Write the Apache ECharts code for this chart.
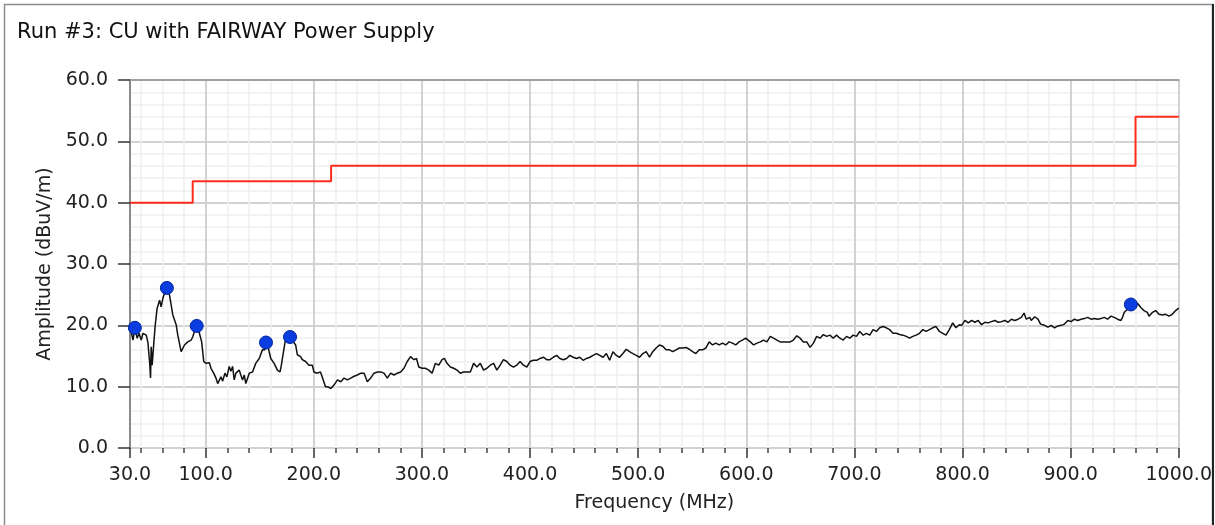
<!DOCTYPE html>
<html>
<head>
<meta charset="utf-8">
<script src="https://cdn.jsdelivr.net/npm/echarts@6/dist/echarts.min.js"></script>
<style>
  body { margin: 0; background: #fff; }
  #chart { width: 1215px; height: 525px; }
</style>
</head>
<body>
<div id="chart"></div>
<script>
const freqs = [30, 31.2, 32.8, 34.3, 36.7, 38.3, 40.4, 42, 45, 46.5, 48.1, 49, 49.6, 50.5, 52.1, 53.3, 55.1, 57.4, 58.8, 60.4,
  63.4, 66.6, 69.6, 72.7, 74.2, 77.3, 80.4, 83.4, 86.5, 88, 91.1, 92.6, 94.2, 96.3, 98.2, 100.3, 103.4, 104.9, 107.4, 109.5,
  111.1, 114.1, 115.7, 117.8, 119.6, 121.8, 123.3, 124.9, 126.4, 127.9, 129.5, 131, 132.5, 134.1, 135.7, 137.1, 140.3, 143.3, 146.3, 149.5,
  152.5, 154.6, 157.1, 158.7, 160.2, 163.3, 166.3, 168.8, 170, 172.5, 174, 177.1, 180.1, 183.2, 184.8, 187.8, 189.4, 192.4, 195.5, 198.6,
  200.1, 203.2, 206.2, 209.3, 210.8, 212.7, 215.8, 218.8, 221.9, 225, 228, 231.1, 234.2, 237.3, 240.3, 243.4, 246.5, 249.5, 252.6, 255.7,
  258.8, 261.9, 264.9, 268, 271.1, 274.2, 277.2, 280.3, 283.4, 286.4, 289.5, 292.6, 295, 297.1, 300.2, 303.2, 306.3, 309.4, 312.5, 315.6,
  318.6, 320.8, 323.2, 326.3, 329.4, 332.5, 335.5, 338.6, 341.7, 344.8, 347.8, 350.9, 354, 357, 360.1, 363.2, 366.3, 369.3, 372.4, 375.4,
  378.5, 381.6, 384.7, 387.7, 390.8, 393.9, 397, 400, 403.1, 406.2, 409.2, 412.3, 415.4, 418.5, 421.5, 424.6, 427.6, 430.7, 433.8, 436.8,
  439.9, 443, 446, 449.1, 452.2, 455.3, 458.3, 461.4, 464.5, 467.5, 470.6, 473.6, 476.7, 479.8, 482.8, 485.9, 489, 492, 495.1, 498.2,
  501.3, 504.3, 507.4, 510.5, 513.5, 516.6, 519.7, 522.8, 525.8, 528.9, 532, 535, 538.1, 541.1, 544.2, 547.3, 550.3, 553.4, 556.5, 559.6,
  562.6, 565.7, 568.8, 571.8, 574.9, 578, 581, 584.1, 587.2, 590.2, 593.3, 596.4, 599.4, 603.8, 606.8, 609.9, 613, 616, 619.1, 622.2,
  625.2, 628.3, 631.4, 634.5, 637.5, 640.6, 643.6, 646.7, 649.8, 652.8, 655.9, 659, 662.1, 665.1, 668.2, 671.3, 674.3, 677.4, 680.4, 683.5,
  686.6, 689.7, 692.7, 695.8, 698.8, 701.9, 705, 708.1, 711.1, 714.2, 717.3, 720.3, 723.4, 726.5, 729.5, 732.6, 735.7, 738.7, 741.8, 744.9,
  747.9, 751, 754, 757.1, 760.2, 763.3, 766.3, 769.4, 772.4, 775.5, 778.6, 781.7, 784.7, 787.8, 790.9, 793.9, 797, 799.2, 802.3, 805.3,
  808.4, 811.5, 814.5, 817.6, 820.7, 823.7, 826.8, 829.9, 832.9, 836, 839.1, 842.1, 845.2, 848.3, 851.4, 854.4, 856.9, 859, 862.1, 863.6,
  866.7, 869.8, 872.2, 875.9, 879, 882, 885.1, 888.2, 891.2, 894.3, 897.4, 900.4, 903.5, 906.6, 909.6, 912.7, 915.8, 918.8, 921.9, 925,
  928.1, 931.1, 934.2, 937.3, 940.3, 943.4, 946.5, 948, 949.5, 951.1, 954.1, 956.6, 958.7, 961.8, 964.9, 967.9, 971, 972.5, 975.6, 978.7,
  981.7, 984.8, 987.9, 990.9, 994, 997.1, 1000];
const amps = [19.6, 18.8, 17.6, 19.5, 17.9, 18.7, 17.6, 18.7, 18.4, 17.3, 14.1, 11.4, 16.5, 13.5, 17.3, 20, 22.8, 24.1, 23, 24.4,
  26, 24.9, 21.7, 20.1, 18.4, 15.7, 16.8, 17.3, 17.6, 18.1, 19.8, 20.3, 18.7, 17.3, 14.1, 13.8, 13.9, 13, 12.2, 11.4,
  10.5, 11.6, 10.9, 12.2, 11.6, 13.3, 12.5, 13.3, 11.1, 12.2, 11.9, 12.7, 11.9, 11.1, 11.9, 10.5, 12.2, 12.4, 13.8, 14.6,
  16, 16, 17.3, 15.7, 14.6, 13.8, 12.7, 12.4, 13.5, 16.3, 17.9, 18.1, 17.6, 16.8, 15.2, 14.9, 14.4, 14.1, 13.5, 13.5,
  12.4, 12.2, 12.4, 10.8, 10, 10, 9.7, 10.3, 11.1, 10.8, 11.4, 11.1, 11.4, 11.7, 11.9, 12.2, 12.2, 10.8, 11.4, 12.2,
  12.4, 12.4, 12.2, 11.4, 12.2, 11.9, 12.2, 12.4, 13, 14.1, 14.9, 14.4, 14.6, 13.2, 13, 13, 12.7, 12.2, 13.8, 13.5,
  14.4, 14.6, 13.8, 13.2, 13, 12.7, 12.2, 12.4, 12.4, 12.4, 13.8, 13.2, 13.8, 12.7, 13, 13.5, 13.8, 12.7, 13.5, 14.4,
  14.1, 13.5, 13.2, 13.5, 14.1, 13.5, 13.2, 14.1, 14.3, 14.3, 14.6, 14.8, 14.4, 14.4, 14.8, 15.1, 14.6, 14.4, 14.6, 15.1,
  14.8, 14.6, 14.8, 14.3, 14.6, 14.8, 15.1, 15.4, 15.1, 14.8, 15.4, 14.3, 15.7, 15.1, 14.8, 15.4, 16.1, 15.7, 15.4, 15.1,
  14.8, 15.4, 15.7, 14.8, 15.7, 16.3, 16.8, 16.6, 16, 16, 15.7, 16, 16.3, 16.3, 16.4, 16.1, 15.7, 15.4, 16, 16,
  16.3, 17.3, 16.8, 17.1, 16.8, 17.1, 16.8, 17.3, 17.1, 16.8, 17.3, 17.6, 17.9, 17.3, 16.8, 17.1, 17.3, 17.6, 17.3, 18.2,
  17.9, 17.6, 17.3, 17.3, 17.3, 17.3, 17.6, 18.3, 17.9, 17.3, 17.3, 16.4, 17.1, 18.2, 17.9, 18.5, 18.2, 18.4, 17.9, 18.4,
  17.9, 17.6, 18.2, 17.9, 18.4, 18.2, 19, 18.4, 18.7, 18.4, 19.3, 19, 19.6, 19.8, 19.6, 19.3, 18.7, 18.7, 18.5, 18.4,
  18.2, 17.9, 18.2, 18.4, 18.7, 19.3, 19, 19.3, 19.6, 19.8, 19, 18.7, 18.4, 19.3, 20.4, 19.6, 20.1, 20, 20.8, 20.4,
  20.8, 20.5, 20.8, 20.1, 20.5, 20.4, 20.6, 20.8, 20.5, 20.6, 20.8, 20.5, 21, 20.8, 21, 21.3, 22, 21, 21.3, 20.8,
  21.4, 21, 20.2, 20, 19.7, 20, 19.6, 19.9, 20, 20.2, 20.8, 20.6, 21, 20.8, 21, 21.1, 21.3, 21, 21.1, 21,
  21.1, 21.3, 21, 21.5, 21.3, 21, 20.8, 21.3, 22.1, 22.2, 22.9, 23.3, 22.8, 23.6, 22.9, 22.4, 22.1, 21.5, 22.1, 22.4,
  21.8, 21.7, 21.8, 21.5, 21.8, 22.4, 22.8];

// limit line (steps)
const limitFreqs = [30, 88, 88, 216, 216, 960, 960, 1000];
const limitAmps = [40, 40, 43.5, 43.5, 46, 46, 54, 54];

// peak markers
const peakFreqs = [34.5, 64.1, 91.7, 155.8, 178, 955.7];
const peakAmps = [19.6, 26.1, 19.9, 17.2, 18.1, 23.4];

// axis ticks
const xMajorTicks = [30, 100, 200, 300, 400, 500, 600, 700, 800, 900, 1000];
const xMinorTicks = [];
for (let v = 40; v <= 1000; v += 20) {
  if (v % 100 !== 0) xMinorTicks.push(v);
}

const FONT = 'DejaVu Sans';

let chart = echarts.init(document.getElementById('chart'));

let option = {
  animation: false,
  backgroundColor: '#fff',
  title: {
    text: 'Run #3: CU with FAIRWAY Power Supply',
    left: 12,
    top: 17,
    textStyle: { fontFamily: FONT, fontSize: 21, fontWeight: 'normal', color: '#111' }
  },
  grid: { left: 130, right: 31, top: 80, bottom: 77 },
  xAxis: [{
    type: 'value',
    min: 30,
    max: 1000,
    name: 'Frequency (MHz)',
    nameLocation: 'middle',
    nameGap: 46,
    nameTextStyle: { fontFamily: FONT, fontSize: 19, color: '#222' },
    axisLine: { show: false },
    axisTick: { show: true, customValues: xMajorTicks, length: 10, lineStyle: { color: '#333', width: 1.5 } },
    axisLabel: {
      customValues: xMajorTicks,
      margin: 18,
      fontFamily: FONT,
      fontSize: 19,
      color: '#222',
      formatter: (v) => v.toFixed(1)
    },
    splitLine: { show: true, lineStyle: { color: '#d2d2d2', width: 2 } }
  }, {
    // minor grid / ticks every 20 MHz
    type: 'value',
    min: 30,
    max: 1000,
    position: 'bottom',
    axisLine: { show: false },
    axisTick: { show: true, customValues: xMinorTicks, length: 5, lineStyle: { color: '#444', width: 1.5 } },
    axisLabel: { show: false },
    splitLine: { show: true, lineStyle: { color: '#efefef', width: 1.5 } }
  }, {
    // top border of plot
    type: 'value',
    min: 30,
    max: 1000,
    position: 'top',
    axisLine: { show: true, lineStyle: { color: '#a0a0a0', width: 2 } },
    axisTick: { show: false },
    axisLabel: { show: false },
    splitLine: { show: false }
  }],
  yAxis: {
    type: 'value',
    min: 0,
    max: 60,
    interval: 10,
    name: 'Amplitude (dBuV/m)',
    nameLocation: 'middle',
    nameGap: 75,
    nameTextStyle: { fontFamily: FONT, fontSize: 19, color: '#222' },
    axisLine: { show: true, lineStyle: { color: '#8a8a8a', width: 2 } },
    axisTick: { show: true, length: 12, lineStyle: { color: '#333', width: 1.5 } },
    axisLabel: {
      margin: 22,
      fontFamily: FONT,
      fontSize: 19,
      color: '#222',
      formatter: (v) => v.toFixed(1)
    },
    splitLine: { show: true, lineStyle: { color: '#d2d2d2', width: 2 } },
    minorTick: { show: false, splitNumber: 5 },
    minorSplitLine: { show: true, lineStyle: { color: '#efefef', width: 1.5 } }
  },
  series: [{
    name: 'Limit',
    type: 'line',
    xAxisIndex: 0,
    data: limitFreqs.map((f, i) => [f, limitAmps[i]]),
    symbol: 'none',
    lineStyle: { color: '#ff2d1e', width: 2 },
    z: 3
  }, {
    name: 'Trace',
    type: 'line',
    xAxisIndex: 0,
    data: freqs.map((f, i) => [f, amps[i]]),
    symbol: 'none',
    lineStyle: { color: '#111', width: 1.5 },
    z: 4
  }, {
    name: 'Peaks',
    type: 'scatter',
    xAxisIndex: 0,
    data: peakFreqs.map((f, i) => [f, peakAmps[i]]),
    symbol: 'circle',
    symbolSize: 13,
    itemStyle: { color: '#0a3de0', borderColor: '#00239c', borderWidth: 1, opacity: 1 },
    z: 5
  }],
  graphic: [{
    // outer frame
    type: 'rect',
    shape: { x: 4.5, y: 4.5, width: 1208, height: 540 },
    style: { fill: 'none', stroke: '#8c8c8c', lineWidth: 1.5 },
    z: 50
  }, {
    // clip what runs past the right frame
    type: 'rect',
    shape: { x: 1213, y: 0, width: 2, height: 525 },
    style: { fill: '#fff' },
    z: 60
  }, {
    type: 'line',
    shape: { x1: 1213, y1: 4, x2: 1213, y2: 525 },
    style: { stroke: '#222', lineWidth: 2 },
    z: 61
  }]
};

chart.setOption(option);
window.onresize = function () {
  chart.resize();
};
</script>
</body>
</html>
